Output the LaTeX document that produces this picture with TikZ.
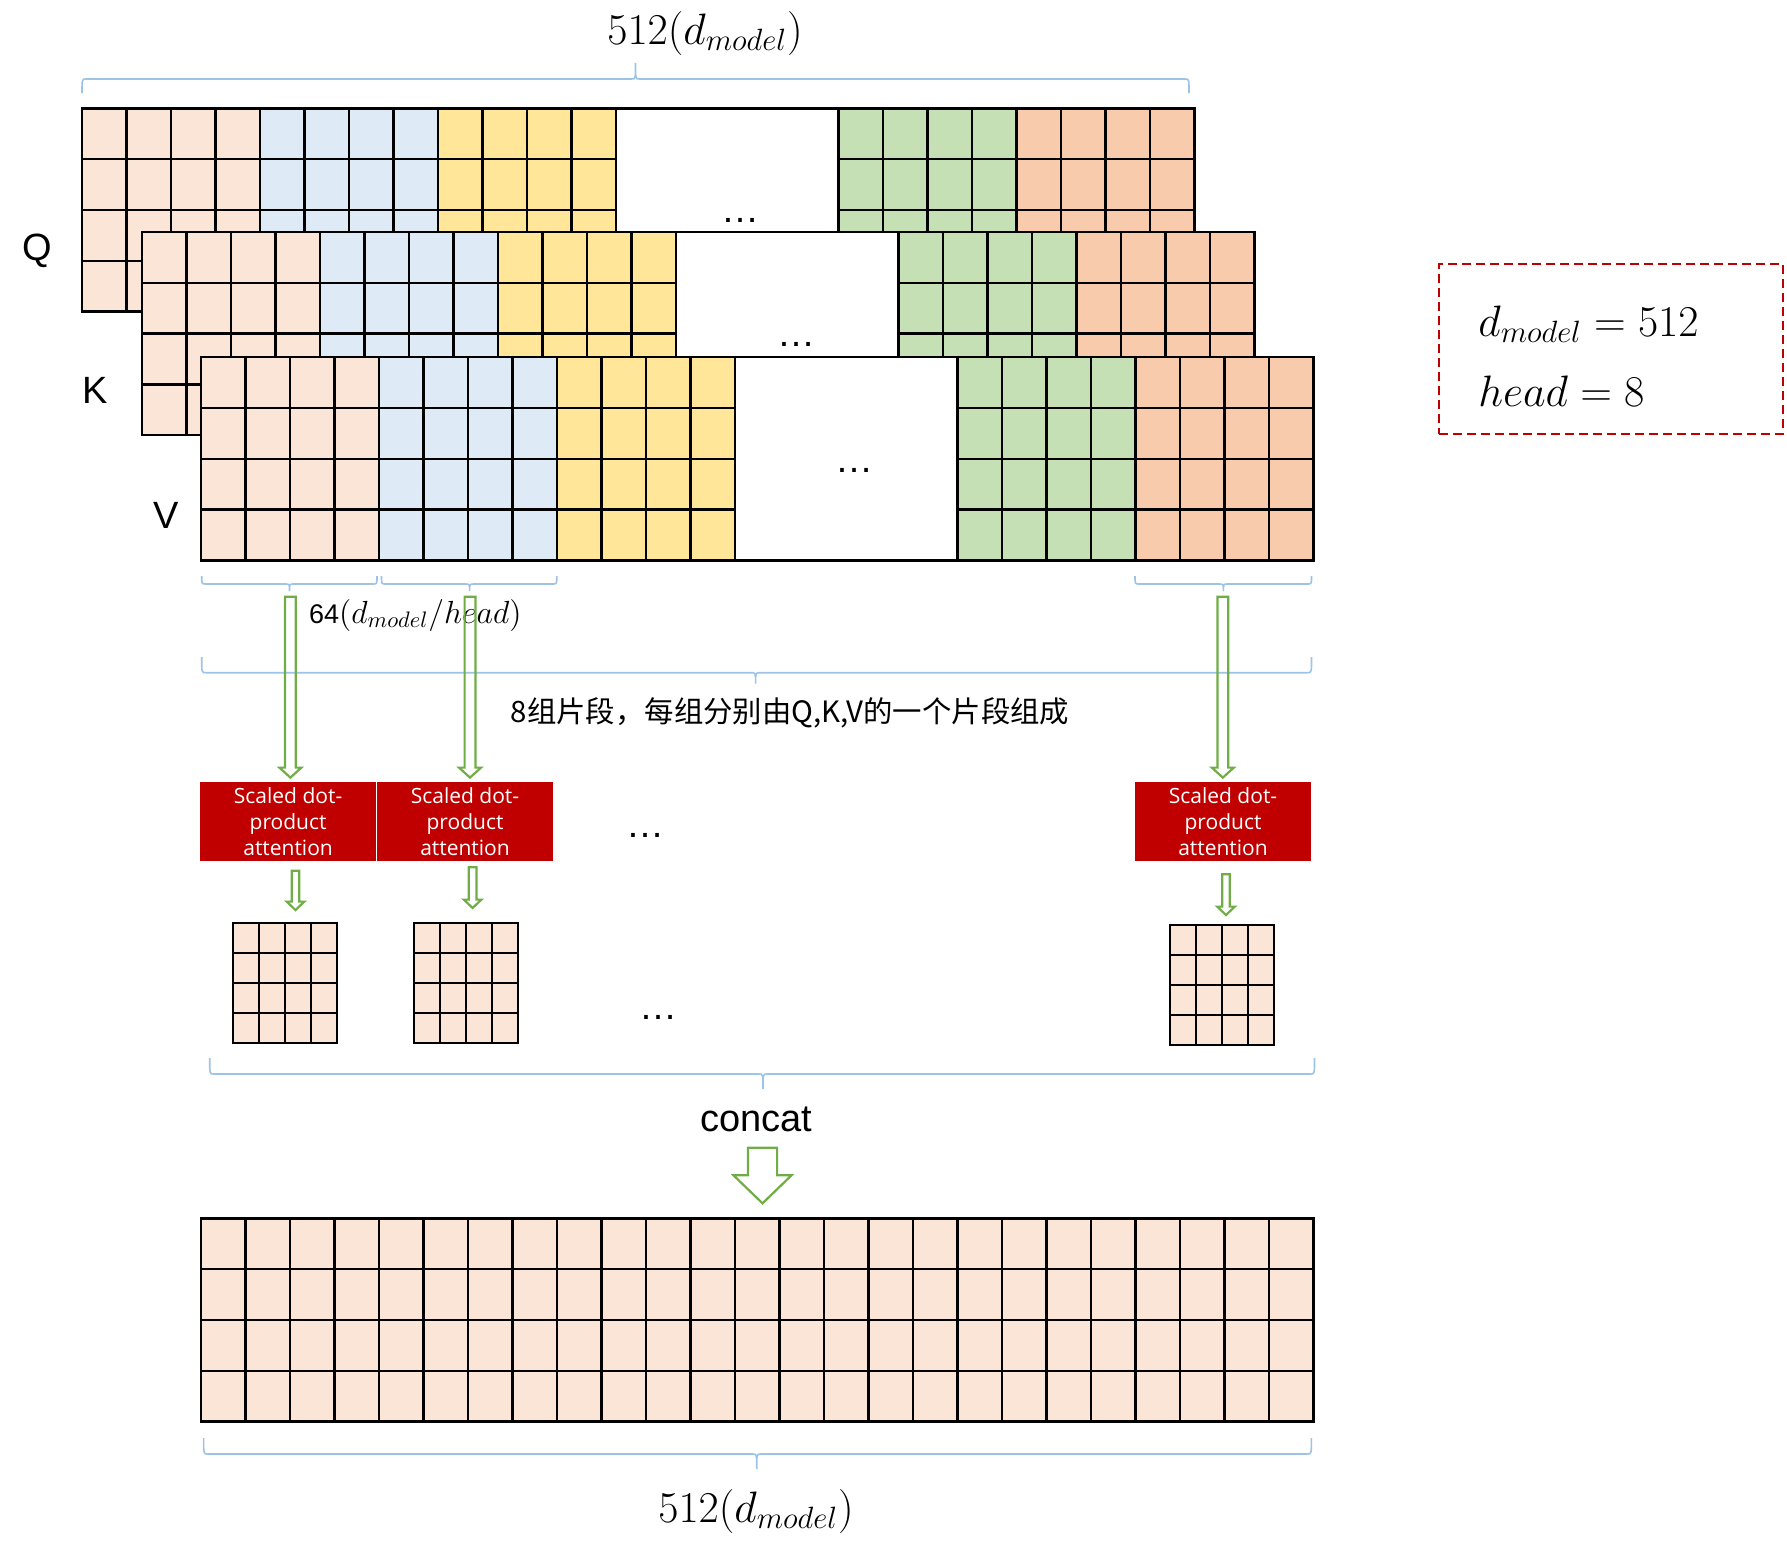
\RequirePackage{fix-cm}
\documentclass[tikz,border=0pt]{standalone}
\usepackage{fontspec}
\newfontfamily\lsans{Liberation Sans}
\newfontfamily\osans{Open Sans}
\newfontfamily\cjk{Noto Sans CJK SC}
\usetikzlibrary{calc}

\definecolor{peach}{HTML}{FBE5D6}
\definecolor{skyb}{HTML}{DEEBF7}
\definecolor{gold}{HTML}{FFE699}
\definecolor{leaf}{HTML}{C5E0B4}
\definecolor{coral}{HTML}{F8CBAD}
\definecolor{darkred}{HTML}{C00000}
\definecolor{grass}{HTML}{70AD47}
\definecolor{bracec}{HTML}{9DC3E6}

\tikzset{
  cell/.style={line width=1.2pt},
  brc/.style={draw=bracec, line width=0.8pt},
  garrow/.style={draw=grass, line width=1.1pt, line join=miter},
  att/.style={fill=darkred, text=white, minimum width=88pt, minimum height=39.4pt, inner sep=0pt, align=center, font=\osans\fontsize{10.5}{13}\selectfont},
  lbl/.style={font=\lsans\fontsize{19}{22}\selectfont},
  dotsl/.style={font=\lsans\fontsize{19}{22}\selectfont, anchor=base, inner sep=0pt},
  mathl/.style={font=\fontsize{22}{25}\selectfont, inner sep=0pt},
  parbox/.style={draw=darkred, line width=1.1pt, dash pattern=on 4.5pt off 2.5pt, minimum width=172pt, minimum height=85pt, inner sep=0pt},
}

% one Q/K/V matrix, top left corner
\newcommand{\qkvmat}[2]{%
  \begin{scope}[shift={(#1,#2)}]
    \fill[white] (0,0) rectangle (1112.5,203.2);
    \foreach \s/\col in {0/peach,4/skyb,8/gold,17/leaf,21/coral}{
      \fill[\col] (\s*44.5,0) rectangle ++(178,203.2);
      \foreach \k in {1,2,3} \draw[cell] (\s*44.5+\k*44.5,0) -- ++(0,203.2);
      \foreach \r in {1,2,3} \draw[cell] (\s*44.5,\r*50.8) -- ++(178,0);
    }
    \foreach \s in {4,8,12,17,21} \draw[cell] (\s*44.5,0) -- ++(0,203.2);
    \draw[cell] (0,0) rectangle (1112.5,203.2);
  \end{scope}}

\newcommand{\smallmat}[2]{%
  \begin{scope}[shift={(#1,#2)}]
    \fill[peach] (0,0) rectangle (104,120);
    \foreach \k in {1,2,3} {\draw[cell] (\k*26,0) -- ++(0,120); \draw[cell] (0,\k*30) -- ++(104,0);}
    \draw[cell] (0,0) rectangle (104,120);
  \end{scope}}

% x1, x2, tip x, y, end offset, tip offset
\newcommand{\brc}[6]{%
  \draw[brc] (#1,{#4+(#5)}) .. controls (#1,#4) .. ({#1+4},#4) -- ({#3-4},#4)
    .. controls (#3,#4) .. (#3,{#4+(#6)}) .. controls (#3,#4) .. ({#3+4},#4)
    -- ({#2-4},#4) .. controls (#2,#4) .. (#2,{#4+(#5)});}

% from, to, half shaft, half head, head length
\newcommand{\hollow}[5]{%
  \draw[garrow] let \p1=(#1), \p2=(#2) in
    ({\x1-#3},\y1) -- ({\x1+#3},\y1) -- ({\x1+#3},{\y2+#5}) -- ({\x1+#4},{\y2+#5})
    -- (\x1,\y2) -- ({\x1-#4},{\y2+#5}) -- ({\x1-#3},{\y2+#5}) -- cycle;}

\begin{document}
\begin{tikzpicture}[x=0.5pt,y=-0.5pt]
\useasboundingbox (0,0) rectangle (1787,1548);

\qkvmat{82}{108.3}
\qkvmat{141.8}{231.9}
\qkvmat{200.8}{357.1}
\node[dotsl] (qdots) at (740,222) {…};
\node[dotsl] (kdots) at (796,346) {…};
\node[dotsl] (vdots) at (854.5,472) {…};
\node[lbl] (qlab) at (37.6,250.5) {Q};
\node[lbl] (klab) at (94.7,390.5) {K};
\node[lbl] (vlab) at (166,515.7) {V};

\brc{82}{1189}{635.5}{79}{14}{-16}
\node[mathl, anchor=base] (dtop) at (705,44) {$512(d_{model})$};

\node[parbox] (params) at (1611,349) {};
\node[mathl, anchor=base west] (pdm) at (1478,336) {$d_{model}=512$};
\node[mathl, anchor=base west] (phd) at (1478,406.7) {$head=8$};

\brc{201.7}{377}{289.5}{584}{-8}{7}
\brc{381.5}{556.8}{469.6}{584}{-8}{7}
\brc{1135}{1311.5}{1223.4}{584}{-8}{7}
\node[anchor=base west, inner sep=0pt] (seg) at (308.8,623)
  {{\lsans\fontsize{13.5}{16}\selectfont 64}\fontsize{16}{19}\selectfont$(d_{model}/head)$};
\brc{201.7}{1311.5}{755.6}{672.7}{-15.5}{11}
\node[font=\cjk\fontsize{14.7}{17}\selectfont] (grp) at (790,713) {8组片段，每组分别由Q,K,V的一个片段组成};

\node[att] (att1) at (288.1,821.4) {Scaled dot-\\product\\attention};
\node[att] (att2) at (465,821.4) {Scaled dot-\\product\\attention};
\node[att] (att3) at (1223,821.4) {Scaled dot-\\product\\attention};
\node[dotsl] (mdots1) at (645,837) {…};

\coordinate (s1) at (290.4,596.7);
\coordinate (s2) at (470,596.7);
\coordinate (s3) at (1222.8,596.7);
\hollow{s1}{[yshift=2pt]att1.north}{2.7pt}{5.5pt}{5pt}
\hollow{s2}{[yshift=2pt]att2.north}{2.7pt}{5.5pt}{5pt}
\hollow{s3}{[yshift=2pt]att3.north}{2.7pt}{5.5pt}{5pt}

\smallmat{233}{923}
\smallmat{414}{923}
\smallmat{1170}{925}
\coordinate (r1) at (285,923);
\coordinate (r2) at (466,923);
\coordinate (r3) at (1222,925);
\node[dotsl] (mdots2) at (658,1019) {…};
\coordinate (o1) at (295.5,870.7);
\coordinate (o2) at (472.6,867.3);
\coordinate (o3) at (1226,874.3);
\hollow{o1}{[yshift=6.5pt]r1}{1.9pt}{4.4pt}{4.2pt}
\hollow{o2}{[yshift=7.5pt]r2}{1.9pt}{4.4pt}{4.2pt}
\hollow{o3}{[yshift=5pt]r3}{1.9pt}{4.4pt}{4.2pt}

\brc{209.7}{1314.5}{763}{1074}{-16}{15}
\node[lbl, anchor=base, inner sep=0pt] (cc) at (756.5,1131.7) {concat};
\coordinate (c0) at (762.5,1147.7);
\coordinate (ctop) at (756.9,1218.3);
\hollow{c0}{[yshift=7.5pt]ctop}{7.3pt}{14.5pt}{14pt}

\begin{scope}[shift={(200.8,1218.3)}]
  \fill[peach] (0,0) rectangle (1112.5,203.2);
  \foreach \k in {1,...,24} \draw[cell] (\k*44.5,0) -- ++(0,203.2);
  \foreach \r in {1,2,3} \draw[cell] (0,\r*50.8) -- ++(1112.5,0);
  \draw[cell] (0,0) rectangle (1112.5,203.2);
\end{scope}

\brc{203.6}{1311.4}{756.7}{1454}{-16}{15}
\node[mathl, anchor=base] (dbot) at (756,1522) {$512(d_{model})$};
\end{tikzpicture}
\end{document}
